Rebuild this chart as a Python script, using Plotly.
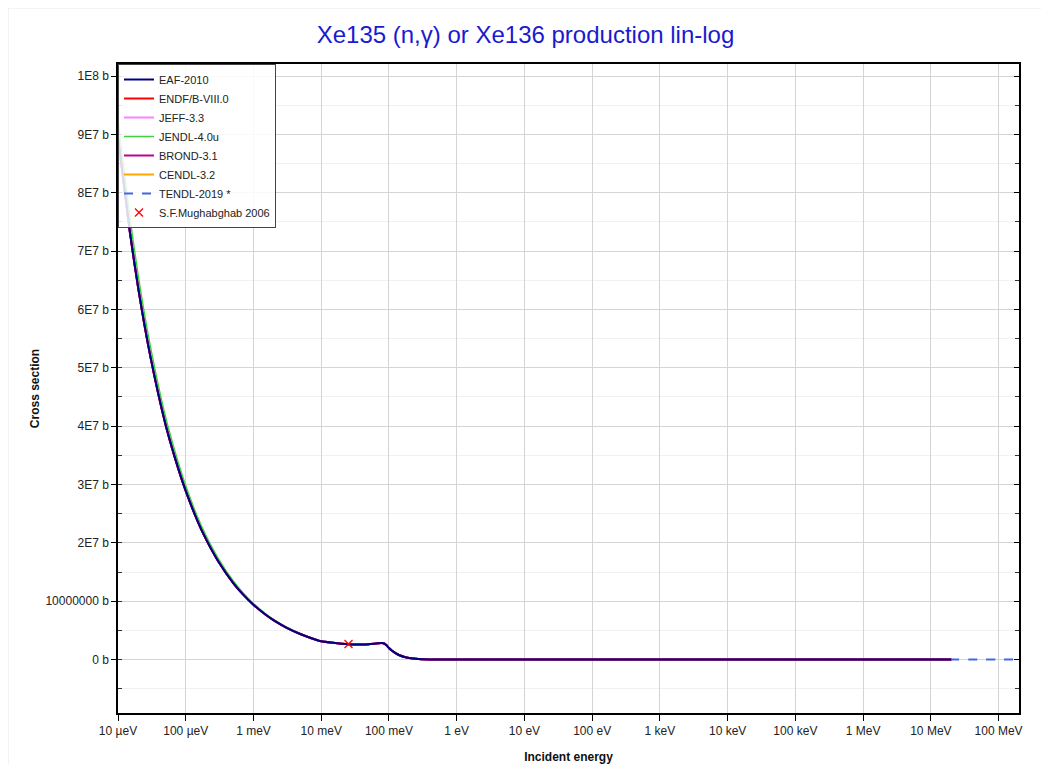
import plotly.graph_objects as go

# ---------------- data ----------------
energy_ev = [1e-5, 1.5e-5, 2e-5, 3e-5, 5e-5, 7e-5, 1e-4, 1.5e-4, 2e-4, 3e-4, 5e-4, 7e-4,
             1e-3, 1.5e-3, 2e-3, 3e-3, 5e-3, 7e-3, 1e-2, 0.015, 0.02, 0.0253, 0.03, 0.04,
             0.05, 0.06, 0.07, 0.078, 0.085, 0.092, 0.1, 0.11, 0.125, 0.143, 0.17, 0.2,
             0.25, 0.3, 0.4, 0.6, 1.0, 3.0, 10.0, 100.0, 1e3, 1e4, 1e5, 1e6, 2e7]

xs_common = [8.95e7, 7.32e7, 6.35e7, 5.20e7, 4.04e7, 3.44e7, 2.89e7, 2.37e7, 2.06e7, 1.69e7,
             1.315e7, 1.117e7, 9.39e6, 7.72e6, 6.71e6, 5.53e6, 4.34e6, 3.71e6, 3.14e6, 2.88e6,
             2.72e6, 2.62e6, 2.58e6, 2.58e6, 2.63e6, 2.72e6, 2.81e6, 2.84e6, 2.76e6, 2.45e6,
             1.98e6, 1.55e6, 1.12e6, 0.74e6, 0.45e6, 0.28e6, 0.13e6, 0.07e6, 0.035e6, 0.018e6,
             9e3, 4e3, 2e3, 600, 200, 60, 20, 5, 1]

xs_jendl = [9.25e7, 7.57e7, 6.56e7, 5.37e7, 4.17e7, 3.55e7, 2.98e7, 2.44e7, 2.12e7, 1.74e7,
            1.35e7, 1.146e7, 9.62e6, 7.90e6, 6.86e6, 5.64e6, 4.41e6, 3.76e6, 3.18e6, 2.90e6,
            2.73e6, 2.63e6, 2.59e6, 2.59e6, 2.64e6, 2.73e6, 2.82e6, 2.85e6, 2.77e6, 2.46e6,
            1.99e6, 1.56e6, 1.12e6, 0.74e6, 0.45e6, 0.28e6, 0.13e6, 0.07e6, 0.035e6, 0.018e6,
            9e3, 4e3, 2e3, 600, 200, 60, 20, 5, 1]

tendl_extra_energy = [5e7, 1e8, 2e8]
tendl_extra_xs = [1, 1, 1]

exp_energy = [0.0253]
exp_xs = [2.665e6]

libraries = ["EAF-2010", "ENDF/B-VIII.0", "JEFF-3.3", "JENDL-4.0u", "BROND-3.1", "CENDL-3.2", "TENDL-2019 *"]
colors = ["#000080", "#ff0000", "#ff80ff", "#40d040", "#c00090", "#ffa500", "#4169e1"]

x_tickvals = [1e-5, 1e-4, 1e-3, 1e-2, 1e-1, 1, 10, 100, 1e3, 1e4, 1e5, 1e6, 1e7, 1e8]
x_ticktext = ["10 µeV", "100 µeV", "1 meV", "10 meV", "100 meV", "1 eV", "10 eV", "100 eV",
              "1 keV", "10 keV", "100 keV", "1 MeV", "10 MeV", "100 MeV"]
y_tickvals = [0, 1e7, 2e7, 3e7, 4e7, 5e7, 6e7, 7e7, 8e7, 9e7, 1e8]
y_ticktext = ["0 b", "10000000 b", "2E7 b", "3E7 b", "4E7 b", "5E7 b", "6E7 b", "7E7 b",
              "8E7 b", "9E7 b", "1E8 b"]

# ---------------- figure ----------------
fig = go.Figure()

series = {
    "EAF-2010": (energy_ev, xs_common),
    "ENDF/B-VIII.0": (energy_ev, xs_common),
    "JEFF-3.3": (energy_ev, xs_common),
    "JENDL-4.0u": (energy_ev, xs_jendl),
    "BROND-3.1": (energy_ev, xs_common),
    "CENDL-3.2": (energy_ev, xs_common),
    "TENDL-2019 *": (energy_ev + tendl_extra_energy, xs_common + tendl_extra_xs),
}

# draw in reverse so EAF ends on top, keep legend order with legendrank
draw_order = ["TENDL-2019 *", "CENDL-3.2", "JEFF-3.3", "ENDF/B-VIII.0", "JENDL-4.0u", "BROND-3.1", "EAF-2010"]
for name in draw_order:
    i = libraries.index(name)
    ex, ys = series[name]
    fig.add_trace(go.Scatter(
        x=ex, y=ys, mode="lines", name=name,
        line=dict(color=colors[i], width=1.5 if name == "JENDL-4.0u" else 2,
                  dash="dash" if name.startswith("TENDL") else "solid", shape="spline",
                  smoothing=0.6),
        legendrank=i + 1, xaxis="x", yaxis="y",
    ))

fig.add_trace(go.Scatter(
    x=exp_energy, y=exp_xs, mode="markers", name="S.F.Mughabghab 2006",
    marker=dict(symbol="x-thin", size=8, color="red", line=dict(color="red", width=1.3)),
    legendrank=8,
))

# invisible trace to own the mirrored right axis
fig.add_trace(go.Scatter(x=[1e-5], y=[0], yaxis="y2", mode="markers",
                         marker=dict(opacity=0), showlegend=False, hoverinfo="skip"))

xr = [-5, 8.301]
yr = [-9.15e6, 1.0206e8]

W, H = 1035, 756
ML, MR, MT, MB = 110, 24, 56, 51
pw, ph = W - ML - MR, H - MT - MB

fig.update_layout(
    width=W, height=H,
    margin=dict(l=ML, r=MR, t=MT, b=MB, autoexpand=False),
    paper_bgcolor="white", plot_bgcolor="white",
    font=dict(family="Liberation Sans, Arial, sans-serif", size=12, color="#222222"),
    title=dict(text="Xe135 (n,γ) or Xe136 production lin-log", x=0.5, xanchor="center",
               y=1 - 27 / H, yanchor="middle",
               font=dict(size=24, color="#1a1ad0", family="Liberation Sans, Arial, sans-serif")),
    showlegend=True,
    legend=dict(x=0, y=1, xanchor="left", yanchor="top", bgcolor="rgba(255,255,255,0.85)",
                bordercolor="#444444", borderwidth=1, font=dict(size=11, color="#222222"),
                tracegroupgap=0),
    xaxis=dict(type="log", range=xr, tickvals=x_tickvals, ticktext=x_ticktext,
               tickfont=dict(size=12, color="#222222"),
               showgrid=True, gridcolor="#d4d4d4", gridwidth=1,
               ticks="outside", ticklen=6, tickcolor="black",
               showline=True, linecolor="black", linewidth=1.5, mirror=True,
               zeroline=False, automargin=False,
               title=dict(text="<b>Incident energy</b>", font=dict(size=12, color="#111111"),
                          standoff=18)),
    yaxis=dict(range=yr, tickvals=y_tickvals, ticktext=y_ticktext,
               tickfont=dict(size=12, color="#222222"),
               showgrid=True, gridcolor="#d4d4d4", gridwidth=1,
               ticks="outside", ticklen=5, tickcolor="black",
               showline=True, linecolor="black", linewidth=1.5, mirror=True,
               zeroline=False, automargin=False,
               minor=dict(tick0=0, dtick=5e6, ticks="inside", ticklen=4, tickcolor="#333333",
                          showgrid=True, gridcolor="#f1f1f1"),
               title=dict(text="<b>Cross section</b>", font=dict(size=12, color="#111111"),
                          standoff=3)),
    yaxis2=dict(range=yr, overlaying="y", side="right", tickvals=y_tickvals,
                showticklabels=False, showgrid=False, zeroline=False, automargin=False,
                ticks="inside", ticklen=5, tickcolor="black",
                minor=dict(tick0=0, dtick=5e6, ticks="inside", ticklen=4, tickcolor="#333333",
                           showgrid=False)),
    shapes=[
        dict(type="line", xref="paper", yref="paper",
             x0=-ML / pw, x1=(W - ML) / pw, y0=1 + MT / ph, y1=1 + MT / ph,
             line=dict(color="#e8e8e8", width=1), layer="below"),
        dict(type="line", xref="paper", yref="paper",
             x0=-ML / pw, x1=-ML / pw, y0=-MB / ph, y1=1 + MT / ph,
             line=dict(color="#e8e8e8", width=1), layer="below"),
        dict(type="line", xref="paper", yref="paper",
             x0=(W - ML) / pw - 0.0005, x1=(W - ML) / pw - 0.0005, y0=-MB / ph, y1=1 + MT / ph,
             line=dict(color="#e8e8e8", width=1), layer="below"),
    ],
)

fig.write_html("out.html")
